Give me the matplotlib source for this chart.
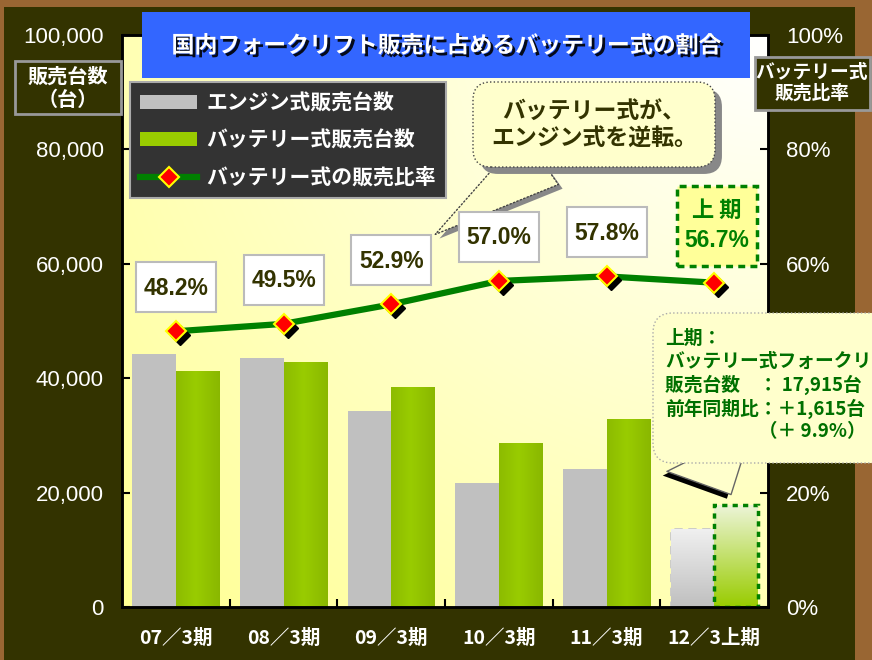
import numpy as np
import matplotlib
matplotlib.use("Agg")
import matplotlib.pyplot as plt
from matplotlib import font_manager
from matplotlib.patches import Rectangle, FancyBboxPatch, Patch
from matplotlib.lines import Line2D
from matplotlib.transforms import IdentityTransform, offset_copy
import matplotlib.patheffects as pe

plt.rcParams["font.family"] = ["Noto Sans CJK JP", "DejaVu Sans"]

W, H = 872, 660

periods = ["07／3期", "08／3期", "09／3期", "10／3期", "11／3期", "12／3上期"]
engine_units = [44300, 43600, 34200, 21600, 24100, 13600]
battery_units = [41200, 42900, 38400, 28600, 32800, 17915]
battery_share = [48.2, 49.5, 52.9, 57.0, 57.8, 56.7]
left_ticks = [0, 20000, 40000, 60000, 80000, 100000]
right_ticks = [0, 20, 40, 60, 80, 100]

OLIVE = "#333300"
GREEN_TXT = "#007000"
PX = IdentityTransform()

# narrow bold face for the percentage boxes, if it is there
installed = {f.name for f in font_manager.fontManager.ttflist}
if "Liberation Sans Narrow" in installed:
    PCT_FONT, PCT_SIZE = ["Liberation Sans Narrow", "DejaVu Sans"], 19
else:
    PCT_FONT, PCT_SIZE = ["Liberation Sans", "DejaVu Sans"], 16.5
NUM_FONT = ["Liberation Sans", "DejaVu Sans"]


def px_box(x0, y0, x1, y1, **kw):
    # box given in image pixels (origin top-left)
    p = FancyBboxPatch((x0, H - y1), x1 - x0, y1 - y0, transform=PX, **kw)
    fig.add_artist(p)
    return p


def px_text(x, y, s, **kw):
    return fig.text(x, H - y, s, transform=PX, **kw)


fig = plt.figure(figsize=(W / 100, H / 100), dpi=100, facecolor="#996633")
fig.add_artist(Rectangle((4, 0), 851, H - 7, transform=PX, facecolor=OLIVE,
                         edgecolor="none", zorder=-1))

ax = fig.add_axes([122 / W, 1 - 607 / H, (768 - 122) / W, (607 - 35) / H])
ax2 = ax.twinx()

# plot-area background: white at top right fading to pale yellow
gy, gx = np.mgrid[0:1:200j, 0:1:200j]
t = np.clip(np.sqrt((1 - gx) ** 2 + (1 - gy) ** 2) / np.sqrt(2), 0, 1)
bg = np.dstack([np.ones_like(t), np.ones_like(t), 1 - 0.42 * t])
ax.imshow(bg, extent=(-0.5, 5.5, 0, 100000), origin="lower", aspect="auto", zorder=0)

x = np.arange(len(periods))
bw = 0.405
gray_bars = ax.bar(x - bw / 2, engine_units, bw, color="#c0c0c0", zorder=2)
green_bars = ax.bar(x + bw / 2, battery_units, bw, color="none", zorder=2)

# horizontal shading on the green bars
hx = np.linspace(0, 1, 60)
shade = 1 - 0.1 * np.abs(hx - 0.45) / 0.55
green_grad = np.dstack([0.6 * shade, 0.8 * shade, 0 * shade])[0][None, :, :]
for r in green_bars[:-1]:
    im = ax.imshow(green_grad, extent=(r.get_x(), r.get_x() + r.get_width(), 0, r.get_height()),
                   aspect="auto", zorder=2)
    im.set_clip_path(r)

# first-half bars: faded vertical gradient with dashed outlines
vy = np.linspace(0, 1, 80)[:, None]
g_last = gray_bars[-1]
g_last.set_facecolor("none")
g_last.set_edgecolor("#c8c8c8")
g_last.set_linestyle((0, (3, 2)))
g_last.set_linewidth(2)
gray_grad = np.dstack([0.75 + 0.19 * vy, 0.75 + 0.19 * vy, 0.75 + 0.19 * vy])
im = ax.imshow(gray_grad, origin="lower", aspect="auto", zorder=2,
               extent=(g_last.get_x(), g_last.get_x() + g_last.get_width(), 0, g_last.get_height()))
im.set_clip_path(g_last)
b_last = green_bars[-1]
b_last.set_edgecolor("#008000")
b_last.set_linestyle((0, (1.5, 1.5)))
b_last.set_linewidth(2.5)
b_last.set_zorder(3)
lg_grad = np.dstack([0.6 + 0.33 * vy, 0.8 + 0.16 * vy, 0.0 + 0.85 * vy])
im = ax.imshow(lg_grad, origin="lower", aspect="auto", zorder=2,
               extent=(b_last.get_x(), b_last.get_x() + b_last.get_width(), 0, b_last.get_height()))
im.set_clip_path(b_last)

ax.set_xlim(-0.5, 5.5)
ax.set_ylim(0, 100000)
ax.set_yticks(left_ticks)
ax.set_yticklabels([f"{v:,}" for v in left_ticks], family=NUM_FONT)
ax.set_xticks(x)
ax.set_xticklabels(periods, fontweight="bold")
ax.set_xticks(x[:-1] + 0.5, minor=True)
ax.tick_params(axis="x", which="major", length=0, pad=16, labelsize=14, labelcolor="white")
ax.tick_params(axis="x", which="minor", direction="in", length=6, width=1.5, color="black")
ax.tick_params(axis="y", direction="in", length=6, width=1.5, color="black",
               pad=13, labelsize=16, labelcolor="white")

ax2.set_ylim(0, 100)
ax2.set_yticks(right_ticks)
ax2.set_yticklabels([f"{v}%" for v in right_ticks], family=NUM_FONT)
ax2.tick_params(axis="y", direction="in", length=6, width=1.5, color="black",
                pad=13, labelsize=16, labelcolor="white")
for a in (ax, ax2):
    for s in a.spines.values():
        s.set_color("black")
        s.set_linewidth(1.8)

# battery share line with shadowed diamonds
ax2.plot(x, battery_share, color="#008000", lw=4.5, zorder=3)
shadow = offset_copy(ax2.transData, fig=fig, x=4, y=-4, units="dots")
ax2.plot(x, battery_share, "D", color="black", ms=10.5, transform=shadow, zorder=4)
ax2.plot(x, battery_share, "D", mfc="red", mec="yellow", mew=1.5, ms=10.5, ls="none", zorder=5)

# value boxes above the markers
for i, v in enumerate(battery_share[:-1]):
    cx, cy = ax2.transData.transform((x[i], v))
    cy = H - cy - 44
    px_box(cx - 40, cy - 25, cx + 40, cy + 25, boxstyle="square,pad=0",
           facecolor="white", edgecolor="#bbbbbb", lw=1.5, zorder=5)
    px_text(cx, cy + 1, f"{v:.1f}%", ha="center", va="center", fontsize=PCT_SIZE,
            fontweight="bold", color=OLIVE, family=PCT_FONT, zorder=6)

cx, cy = ax2.transData.transform((x[-1], battery_share[-1]))
cy = H - cy - 57
px_box(cx - 37, cy - 40, cx + 43, cy + 40, boxstyle="square,pad=0", facecolor="#ffff99",
       edgecolor="#008000", lw=2.5, linestyle=(0, (2, 1.5)), zorder=5)
px_text(cx + 3, cy - 15, "上 期", ha="center", va="center", fontsize=16, fontweight="bold",
        color="#008000", zorder=6)
px_text(cx + 3, cy + 15, f"{battery_share[-1]}%", ha="center", va="center", fontsize=PCT_SIZE,
        fontweight="bold", color="#008000", family=PCT_FONT, zorder=6)

# title
px_box(142, 12, 750, 78, boxstyle="square,pad=0", facecolor="#3366ff", edgecolor="none", zorder=5)
px_text(446, 46, "国内フォークリフト販売に占めるバッテリー式の割合", ha="center", va="center",
        fontsize=16.5, fontweight="bold", color="white", zorder=6,
        path_effects=[pe.SimplePatchShadow(offset=(2, -2), shadow_rgbFace="black", alpha=0.9),
                      pe.Normal()])

# axis caption boxes
px_box(15, 61, 121, 114, boxstyle="square,pad=0", facecolor=OLIVE, edgecolor="#999999",
       lw=2, zorder=5)
px_text(68, 88, "販売台数\n（台）", ha="center", va="center", fontsize=14.5, fontweight="bold",
        color="white", linespacing=1.1, zorder=6)
px_box(755, 57, 870, 110, boxstyle="square,pad=0", facecolor=OLIVE, edgecolor="#999999",
       lw=2, zorder=5)
px_text(812, 83, "バッテリー式\n販売比率", ha="center", va="center", fontsize=13.5,
        fontweight="bold", color="white", linespacing=1.1, zorder=6)

# legend
handles = [Patch(facecolor="#c0c0c0"), Patch(facecolor="#99cc00"),
           Line2D([], [], color="#008000", lw=4.5, marker="D", mfc="red", mec="yellow",
                  mew=1.5, ms=10)]
leg = ax2.legend(handles, ["エンジン式販売台数", "バッテリー式販売台数", "バッテリー式の販売比率"],
                 loc="upper left", bbox_to_anchor=(130 / W, 1 - 82 / H),
                 bbox_transform=fig.transFigure, fontsize=15, frameon=True, fancybox=False,
                 facecolor="#333333", edgecolor="#aaaaaa", framealpha=1, handlelength=2.7,
                 handleheight=0.65, handletextpad=0.45, labelspacing=0.78, borderpad=0.5,
                 borderaxespad=0)
leg.get_frame().set_linewidth(1.5)
for txt in leg.get_texts():
    txt.set_color("white")
    txt.set_fontweight("bold")

# callout: battery overtakes engine
a1 = ax2.annotate("", xy=(433, H - 236), xycoords="figure pixels", xytext=(543, H - 158),
                  textcoords="figure pixels",
                  arrowprops=dict(arrowstyle="wedge,tail_width=2.2,shrink_factor=0.5",
                                  mutation_scale=20, fc="#ffffcc", ec="#444444",
                                  lw=1, ls=":"))
a1.arrow_patch.set_path_effects([pe.SimplePatchShadow(offset=(3, -3), shadow_rgbFace="#888888",
                                                      alpha=1), pe.Normal()])
px_box(483, 92, 705, 157, boxstyle="round,pad=10,rounding_size=18", facecolor="#ffffcc",
       edgecolor="#444444", lw=1, linestyle=":", zorder=5,
       path_effects=[pe.SimplePatchShadow(offset=(5, -5), shadow_rgbFace="#888888", alpha=1),
                     pe.Normal()])
px_text(594, 125, "バッテリー式が、\nエンジン式を逆転。", ha="center", va="center", fontsize=16.5,
        fontweight="bold", color=OLIVE, linespacing=1.25, zorder=6)

# callout: first-half detail
a2 = ax2.annotate("", xy=(x[-1] + bw / 2, battery_units[-1]), xycoords=ax.transData,
                  xytext=(708, H - 448), textcoords="figure pixels",
                  arrowprops=dict(arrowstyle="wedge,tail_width=3.4,shrink_factor=0.5",
                                  mutation_scale=20, fc="#ffffcc", ec="#666666", lw=1,
                                  shrinkB=8))
a2.arrow_patch.set_path_effects([pe.SimplePatchShadow(offset=(-3, -3), shadow_rgbFace="black",
                                                      alpha=1), pe.Normal()])
px_box(663, 323, 900, 453, boxstyle="round,pad=10,rounding_size=20", facecolor="#ffffcc",
       edgecolor="#aaaaaa", lw=1, linestyle=":", zorder=5)
px_text(665, 329, "上期：\nバッテリー式フォークリフト\n販売台数　： 17,915台\n前年同期比：＋1,615台\n"
        "　　　　　（＋ 9.9%）", ha="left", va="top", fontsize=13.5, fontweight="bold",
        color=GREEN_TXT, linespacing=1.24, zorder=6)

fig.savefig("out.png", dpi=100, facecolor=fig.get_facecolor())
